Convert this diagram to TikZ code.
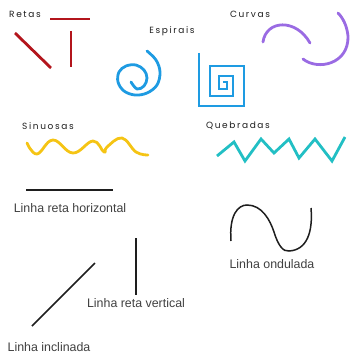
\documentclass[tikz,border=0pt]{standalone}
\usepackage{fontspec}
\setmainfont{Liberation Sans}
\newfontfamily\geofont[LetterSpace=18]{Poppins}
\definecolor{cred}{HTML}{B3151C}
\definecolor{cblue}{HTML}{1E9BE2}
\definecolor{cpurple}{HTML}{9A6BE3}
\definecolor{cyellow}{HTML}{F5C414}
\definecolor{cteal}{HTML}{22BFC4}
\definecolor{cink}{HTML}{1E1E1E}
\begin{document}
\begin{tikzpicture}[x=1pt,y=-1pt,
  toplabel/.style={inner sep=0pt,font=\geofont\fontsize{9}{10}\selectfont,text=cink},
  botlabel/.style={inner sep=0pt,font=\fontsize{12.4}{14}\selectfont,text=cink!85},
  colline/.style={line width=2.8pt,line cap=round,line join=round},
  blkline/.style={line width=1.5pt,cink}]
\useasboundingbox (0,0) rectangle (350,353);
% labels
\node[toplabel] (retas) at (25,14) {Retas};
\node[toplabel] (espirais) at (172,31) {Espirais};
\node[toplabel] (curvas) at (250,14) {Curvas};
\node[toplabel] (sinuosas) at (48,126) {Sinuosas};
\node[toplabel] (quebradas) at (238,126) {Quebradas};
\node[botlabel] (lrh) at (70,208) {Linha reta horizontal};
\node[botlabel] (lrv) at (136,303) {Linha reta vertical};
\node[botlabel] (lin) at (49,347) {Linha inclinada};
\node[botlabel] (lond) at (272,264) {Linha ondulada};
% Retas
\draw[colline,cred,line cap=butt] (50,19) -- (90,19);
\draw[colline,cred,line cap=butt] (15,33) -- (51,68);
\draw[colline,cred,line cap=butt] (71,31) -- (71,67);
% round spiral
\draw[colline,cblue] plot[smooth,tension=0.6] coordinates {(147,51) (156,60) (160,72) (157,85) (147,93) (135,95) (124,91) (118,82) (119,72) (126,66) (136,65) (144,70) (147,78) (144,86) (137,89) (131,82)};
% square spiral
\draw[colline,cblue,line cap=butt,line join=miter] (199,53) -- (199,106) -- (244,106) -- (244,66) -- (210,66) -- (210,96) -- (233,96) -- (233,76) -- (219,76) -- (219,89) -- (227,89) -- (227,82) -- (223,82);
% Curvas
\draw[colline,cpurple] (263,42) .. controls (266,20) and (296,18) .. (310,43);
\draw[colline,cpurple] (303,59) .. controls (318,71) and (349,64) .. (348,36) .. controls (347,26) and (343,18) .. (338,13);
% Sinuosas
\draw[colline,cyellow] plot[smooth,tension=0.7] coordinates {(27,143) (37,154) (53,140) (73,153) (93,141) (104,152) (107,147) (122,138) (136,152) (148,155)};
% Quebradas
\draw[colline,cteal,line cap=butt,line join=miter] (217,156) -- (234,142) -- (245,161) -- (261,139) -- (274,153) -- (289,139) -- (299,158) -- (315,139) -- (332,161) -- (345,137);
% black lines
\draw[blkline] (26,190) -- (113,190);
\draw[blkline] (136,238) -- (136,295);
\draw[blkline] (32,326) -- (95,263);
\draw[blkline] (231,241) .. controls (229,215) and (238,205) .. (247,205) .. controls (262,205) and (270,220) .. (274,232) .. controls (278,245) and (283,252) .. (289,251) .. controls (307,250) and (313,232) .. (311,208);
\end{tikzpicture}
\end{document}
